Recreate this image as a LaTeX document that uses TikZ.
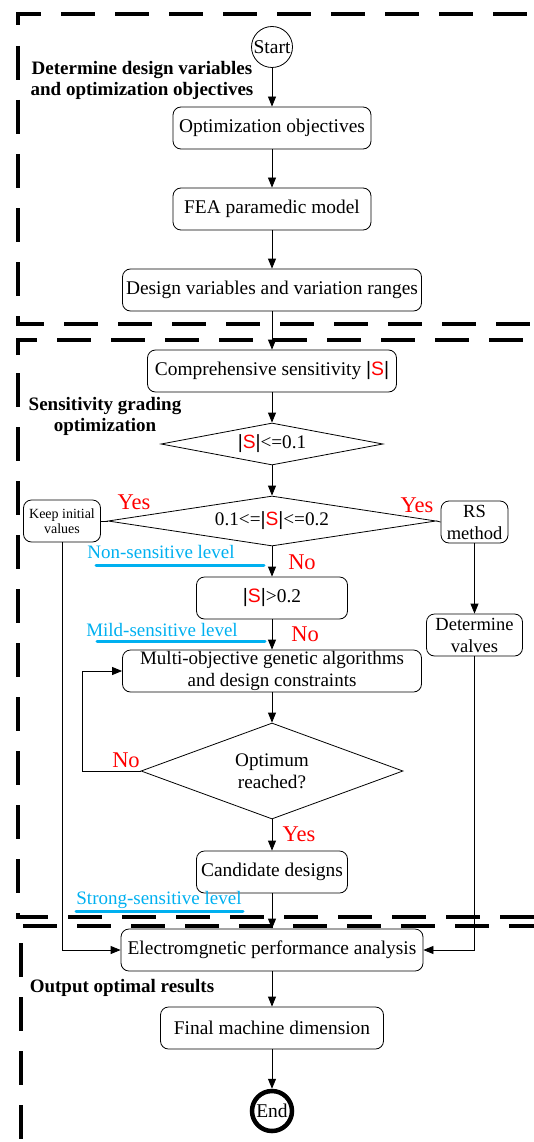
\documentclass[tikz,border=0pt]{standalone}
\usepackage{fontspec}
\setmainfont{Liberation Serif}
\newfontfamily\symfont{Liberation Sans}
\usetikzlibrary{shapes.geometric,arrows.meta}
\definecolor{lvlblue}{HTML}{00B0F0}
\newcommand{\absS}{{\symfont |\textcolor{red}{S}|}}

\begin{document}
\begin{tikzpicture}[x=1pt,y=-1pt,
  box/.style={draw, line width=0.8pt, rounded corners=8pt, minimum height=42pt,
    inner sep=0pt, align=center, font=\fontsize{19.4}{22}\selectfont},
  dia/.style={draw, diamond, line width=0.8pt, inner sep=0pt},
  dtext/.style={align=center, inner sep=0pt, font=\fontsize{19.2}{22}\selectfont},
  flow/.style={line width=0.8pt, -{Triangle[length=10pt,width=8pt]}},
  link/.style={line width=0.8pt},
  zone/.style={line width=3.8pt, dash pattern=on 34pt off 20pt},
  ans/.style={text=red, inner sep=0pt, font=\fontsize{22.5}{24}\selectfont},
  lvl/.style={text=lvlblue, inner sep=0pt, font=\fontsize{19}{20}\selectfont},
  lvlline/.style={lvlblue, line width=3pt, line cap=round},
  stage/.style={align=center, inner sep=0pt, font=\bfseries\fontsize{19}{21}\selectfont},
  term/.style={draw, circle, inner sep=0pt, font=\fontsize{19.5}{20}\selectfont},
]
\useasboundingbox (0,0) rectangle (534,1142);

% stage frames
\draw[zone] (18,25) -- (18,14) -- (560,14);
\draw[zone] (18,46) -- (18,324) -- (560,324);
\draw[zone] (18,355) -- (18,340) -- (560,340);
\draw[zone] (18,373) -- (18,917) -- (560,917);
\draw[zone] (23,926) -- (560,926);
\draw[zone] (21,943) -- (21,1160);

% stage titles
\node[stage] (s1) at (142,80) {Determine design variables\\and optimization objectives};
\node[stage] (s2) at (105,416) {Sensitivity grading\\optimization};
\node[stage] (s3) at (122,988) {Output optimal results};

% main column
\node[term, minimum size=41pt, line width=0.8pt] (start) at (272,47) {Start};
\node[box, minimum width=198pt] (obj) at (272,128) {Optimization objectives};
\node[box, minimum width=198pt] (fea) at (272,209) {FEA paramedic model};
\node[box, minimum width=299pt] (dv) at (272,290) {Design variables and variation ranges};
\node[box, minimum width=249pt] (cs) at (272,371) {Comprehensive sensitivity \absS};
\node[dia, minimum width=222pt, minimum height=42pt] (d1) at (272,444) {};
\node[dtext] (d1t) at (d1.center) {\absS<=0.1};
\node[dia, minimum width=328pt, minimum height=50pt] (d2) at (272,521) {};
\node[dtext] (d2t) at (d2.center) {0.1<=\absS<=0.2};
\node[box, minimum width=77pt, font=\fontsize{14}{15.5}\selectfont] (keep) at (62,521) {Keep initial\\values};
\node[box, minimum width=67pt, font=\fontsize{18.5}{22}\selectfont] (rs) at (474.5,522) {RS\\method};
\node[box, minimum width=151pt] (gt) at (272,598) {\absS>0.2};
\node[box, minimum width=96pt, font=\fontsize{18.5}{22}\selectfont] (dval) at (474.5,635) {Determine\\valves};
\node[box, minimum width=299pt, font=\fontsize{19}{22}\selectfont] (moga) at (272,671)
  {Multi-objective genetic algorithms\\and design constraints};
\node[dia, minimum width=262pt, minimum height=96pt] (d3) at (272,771) {};
\node[dtext] (d3t) at (d3.center) {Optimum\\reached?};
\node[box, minimum width=151pt] (cand) at (272,872) {Candidate designs};
\node[box, minimum width=302pt] (epa) at (272,950) {Electromgnetic performance analysis};
\node[box, minimum width=223pt] (fmd) at (272,1028) {Final machine dimension};
\node[term, minimum size=40pt, line width=4.5pt] (end) at (272,1111) {End};

% decision answers
\node[ans] (y1) at (134,502) {Yes};
\node[ans] (y2) at (417,505) {Yes};
\node[ans] (n1) at (302,562) {No};
\node[ans] (n2) at (305,634) {No};
\node[ans] (n3) at (126,760) {No};
\node[ans] (y3) at (299,834) {Yes};

% sensitivity levels
\node[lvl] (l1) at (161,552) {Non-sensitive level};
\draw[lvlline] (96,565) -- (264,565);
\node[lvl] (l2) at (162,630) {Mild-sensitive level};
\draw[lvlline] (97,641) -- (265,641);
\node[lvl] (l3) at (159,900) {Strong-sensitive level};
\draw[lvlline] (76,911) -- (243,911);

% connectors
\coordinate (loop) at (82,771);
\draw[flow] (start) -- (obj);
\draw[flow] (obj) -- (fea);
\draw[flow] (fea) -- (dv);
\draw[flow] (dv) -- (cs);
\draw[flow] (cs) -- (d1);
\draw[flow] (d1) -- (d2);
\draw[flow] (d2) -- (gt);
\draw[link] (d2.west) -- (keep.east);
\draw[link] (d2.east) -- (rs.west);
\draw[flow] (rs) -- (dval);
\draw[flow] (gt) -- (moga);
\draw[flow] (moga) -- (d3);
\draw[flow] (d3.west) -- (loop) |- (moga.west);
\draw[flow] (d3) -- (cand);
\draw[flow] (cand) -- (epa);
\draw[flow] (keep.south) |- (epa.west);
\draw[flow] (dval.south) |- (epa.east);
\draw[flow] (epa) -- (fmd);
\draw[flow] (fmd) -- (end);
\end{tikzpicture}
\end{document}
